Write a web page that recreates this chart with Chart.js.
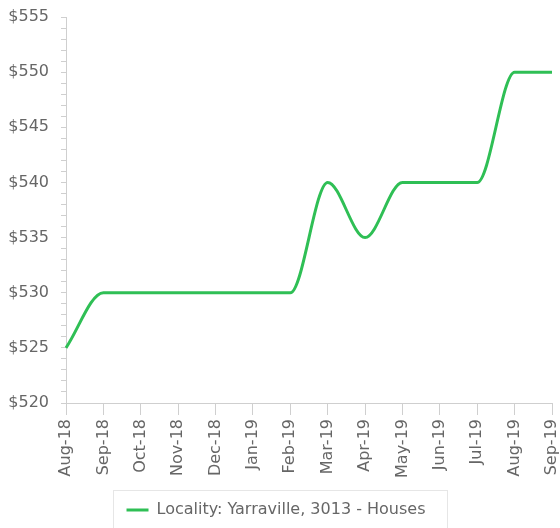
<!DOCTYPE html>
<html lang="en">
<head>
    <meta charset="UTF-8">
    <title>Yarraville Houses Rent</title>
    <script src="https://cdn.jsdelivr.net/npm/chart.js"></script>
    <style>
        body { margin: 0; background: #fff; }
        #wrap { width: 560px; height: 528px; }
    </style>
</head>
<body>
    <div id="wrap"><canvas id="rentChart" width="560" height="528"></canvas></div>

    <script>
        const months = ['Aug-18', 'Sep-18', 'Oct-18', 'Nov-18', 'Dec-18', 'Jan-19', 'Feb-19',
                        'Mar-19', 'Apr-19', 'May-19', 'Jun-19', 'Jul-19', 'Aug-19', 'Sep-19'];
        const rents = [525, 530, 530, 530, 530, 530, 530, 540, 535, 540, 540, 540, 550, 550];
        const seriesName = 'Locality: Yarraville, 3013 - Houses';
        const yMin = 520, yMax = 555, yLabelStep = 5;

        const lineColor = '#2fbf55';
        const axisColor = '#cfcfcf';
        const textColor = '#666';

        // draws the thin grey frame round the legend
        const legendFrame = {
            id: 'legendFrame',
            afterDraw(chart) {
                const box = chart.legend.legendHitBoxes[0];
                if (!box) return;
                const ctx = chart.ctx;
                const mid = box.top + box.height / 2;
                ctx.save();
                ctx.strokeStyle = '#e6e6e6';
                ctx.lineWidth = 1;
                ctx.strokeRect(113.5, Math.round(mid - 20) + 0.5, 334, 60);
                ctx.restore();
            }
        };

        Chart.defaults.font.family = '"DejaVu Sans", sans-serif';
        Chart.defaults.font.size = 16;
        Chart.defaults.color = textColor;

        new Chart(document.getElementById('rentChart'), {
            type: 'line',
            data: {
                labels: months,
                datasets: [{
                    label: seriesName,
                    data: rents,
                    borderColor: lineColor,
                    backgroundColor: lineColor,
                    borderWidth: 3,
                    pointRadius: 0,
                    fill: false,
                    cubicInterpolationMode: 'monotone'
                }]
            },
            options: {
                responsive: false,
                animation: false,
                layout: { padding: { left: 0, top: 17, right: 8, bottom: 0 } },
                plugins: {
                    tooltip: { enabled: false },
                    legend: {
                        position: 'bottom',
                        labels: {
                            usePointStyle: true,
                            pointStyle: 'line',
                            pointStyleWidth: 22,
                            padding: 22,
                            color: textColor
                        }
                    }
                },
                scales: {
                    x: {
                        offset: false,
                        grid: { drawOnChartArea: false, color: axisColor, tickLength: 12 },
                        border: { color: axisColor },
                        ticks: { minRotation: 90, maxRotation: 90, autoSkip: false, padding: 4 },
                        afterFit: s => { s.paddingLeft = 0; s.paddingRight = 0; s.height = 77; }
                    },
                    y: {
                        min: yMin,
                        max: yMax,
                        grid: { drawOnChartArea: false, color: axisColor, tickLength: 5 },
                        border: { color: axisColor },
                        ticks: {
                            stepSize: 1,
                            autoSkip: false,
                            padding: 12,
                            callback: v => (v % yLabelStep === 0 ? '$' + v : '')
                        },
                        afterFit: s => { s.width = 66; s.paddingTop = 0; s.paddingBottom = 0; }
                    }
                }
            },
            plugins: [legendFrame]
        });
    </script>
</body>
</html>
